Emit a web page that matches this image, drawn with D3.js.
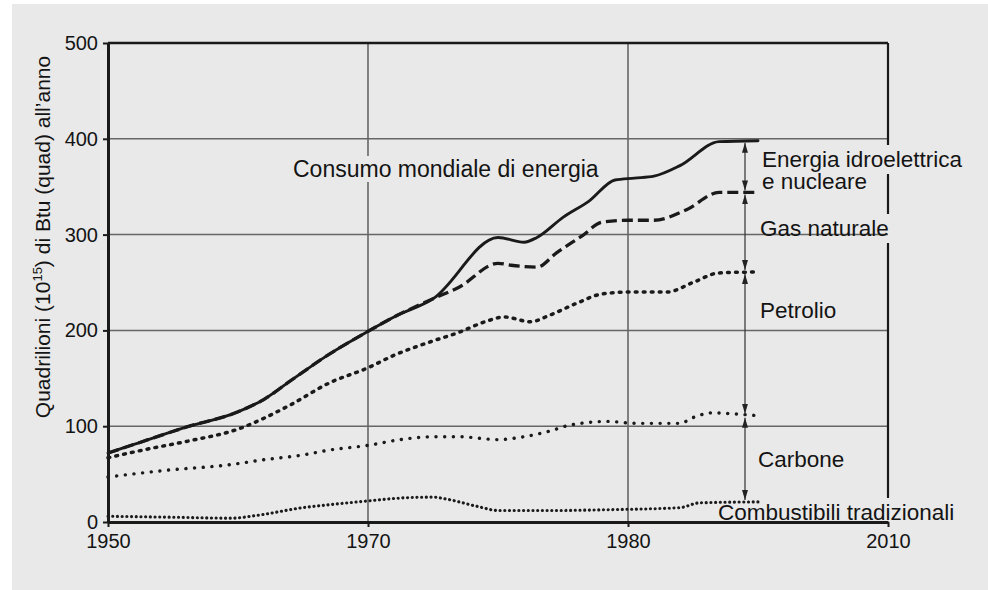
<!DOCTYPE html>
<html lang="it">
<head>
<meta charset="UTF-8">
<script src="https://d3js.org/d3.v7.min.js"></script>
<title>Consumo mondiale di energia</title>
<style>
  body { margin: 0; background: #fff; }
  svg text { font-family: "Liberation Sans", Arial, Helvetica, sans-serif; fill: #141414; }
</style>
</head>
<body>
<svg id="chart" width="988" height="590"></svg>
<script>
// data: [year, quad]
const totalConsumption = [[1950,72],[1952,81],[1956,99],[1960,115],[1962,128],[1964,147],[1967,175],[1970,199],[1972,214],[1975,233],[1980,297],[1982,292],[1983,297],[1985,318],[1987,335],[1989,357],[1990.5,359],[1992,361],[1994,372],[1997,397],[2000,398]];
const withoutHydroNuclear = [[1950,72],[1952,81],[1956,99],[1960,115],[1962,128],[1964,147],[1967,175],[1970,199],[1972,214],[1975,233],[1977,245],[1980,270],[1981,268],[1983,266],[1984.5,281],[1986.5,299],[1988,313],[1990,315],[1992,315],[1994.5,326],[1997,344],[2000,344]];
const withoutGas = [[1950,67],[1953,76],[1956,84],[1960,97],[1964,122],[1967,145],[1970,161],[1972,174],[1975,189],[1977,198],[1979,209],[1980.5,214],[1982.5,209],[1984,216],[1986,228],[1988,238],[1990,240],[1993,240],[1995,250],[1997,260],[2000,261]];
const coalAndTraditional = [[1950,47],[1954.5,54],[1959.5,60],[1962,65],[1965,70],[1967,75],[1970,80],[1972.5,86],[1975,89],[1977,89],[1980,86],[1982,89],[1984,95],[1985.5,101],[1988.5,105],[1990.5,103],[1994,103],[1995,109],[1996.5,114],[1998,113],[2000,111]];
const traditionalFuels = [[1950,6],[1955,5],[1959.5,4],[1961.5,7],[1965,15],[1967,18],[1970,22],[1972.5,25],[1975,26],[1976,24],[1978.5,16],[1980,12],[1984,12],[1989,13],[1994,15],[1995.5,20],[2000,21]];

const yTicks = [0,100,200,300,400,500];
const xTicks = [1950,1970,1990,2010];
const xTickLabels = ["1950","1970","1980","2010"];
const arrowYear = 1999;

const svg = d3.select("svg#chart");
const width = +svg.attr("width");
const height = +svg.attr("height");
const margin = {top:43, right:100, bottom:68, left:108};

// scanned paper
svg.append("rect").attr("width",width).attr("height",height).attr("fill","#fff");
svg.append("rect").attr("x",12).attr("y",4).attr("width",width-12).attr("height",height-4).attr("fill","#e9e9e9");

const x = d3.scaleLinear().domain([1950,2010]).range([margin.left, width-margin.right]);
const y = d3.scaleLinear().domain([0,500]).range([height-margin.bottom, margin.top]);

const grid = svg.append("g").attr("id","grid");
const lines = svg.append("g").attr("id","lines");
const annotations = svg.append("g").attr("id","annotations");

// series, drawn from the data
const lineGen = d3.line().x(d => x(d[0])).y(d => y(d[1])).curve(d3.curveMonotoneX);
const styles = [
  {dash:null, w:2.9, cap:"round"},
  {dash:"11,5", w:3.3, cap:"butt"},
  {dash:"1.8,6.2", w:3.5, cap:"round"},
  {dash:"0.1,8.6", w:3.4, cap:"round"},
  {dash:"0.1,4.6", w:3.1, cap:"round"}
];
const allSeries = [totalConsumption, withoutHydroNuclear, withoutGas, coalAndTraditional, traditionalFuels];
allSeries.forEach((s,i) => {
  lines.append("path")
    .datum(s)
    .attr("fill","none")
    .attr("stroke","#1a1a1a")
    .attr("stroke-width",styles[i].w)
    .attr("stroke-linecap",styles[i].cap)
    .attr("stroke-dasharray",styles[i].dash)
    .attr("d",lineGen);
});

// labels (a label may have several lines)
const labels = [
  {t:["Consumo mondiale di energia"], x:293, y:177, s:23},
  {t:["Energia idroelettrica","e nucleare"], x:762, y:167, s:22.5},
  {t:["Gas naturale"], x:760, y:236, s:22.5},
  {t:["Petrolio"], x:760, y:318, s:22.5},
  {t:["Carbone"], x:758, y:467, s:22.5},
  {t:["Combustibili tradizionali"], x:718, y:520, s:22.5}
];
const boxes = [];
labels.forEach(l => {
  const node = annotations.append("text").attr("x",l.x).attr("y",l.y).attr("font-size",l.s);
  l.t.forEach((line,k) => {
    const ts = node.append("tspan").attr("x",l.x).attr("dy",k === 0 ? 0 : 22).text(line);
    boxes.push(ts.node().getBBox());
  });
});

// arrows between the band edges
const defs = svg.append("defs");
defs.append("marker").attr("id","arrowhead")
  .attr("viewBox","0 0 10 6").attr("refX",10).attr("refY",3)
  .attr("markerWidth",10).attr("markerHeight",6)
  .attr("markerUnits","userSpaceOnUse").attr("orient","auto-start-reverse")
  .append("path").attr("d","M0,0L10,3L0,6Z").attr("fill","#222");
const levels = allSeries.map(s => s[s.length-1][1]);
for (let i=0; i<levels.length-1; i++) {
  annotations.append("line")
    .attr("x1",x(arrowYear)).attr("x2",x(arrowYear))
    .attr("y1",y(levels[i])+2).attr("y2",y(levels[i+1])-2)
    .attr("stroke","#333").attr("stroke-width",1.2)
    .attr("marker-start","url(#arrowhead)").attr("marker-end","url(#arrowhead)");
}

// vertical line split where labels sit on it
function segments(xPos, y0, y1, pad) {
  const cuts = boxes.filter(b => b.x <= xPos && b.x + b.width >= xPos)
    .map(b => [b.y - pad, b.y + b.height + pad]).sort((a,b) => a[0]-b[0]);
  const segs = [];
  let start = y0;
  cuts.forEach(c => { if (c[0] > start) segs.push([start, c[0]]); start = Math.max(start, c[1]); });
  if (start < y1) segs.push([start, y1]);
  return segs;
}

// grid
yTicks.filter(v => v > 0 && v < 500).forEach(v => {
  grid.append("line").attr("x1",x(1950)).attr("x2",x(2010)).attr("y1",y(v)).attr("y2",y(v))
    .attr("stroke","#666").attr("stroke-width",1.5);
});
[1970,1990].forEach(yr => {
  segments(x(yr), y(500), y(0), 0).forEach(sg => {
    grid.append("line").attr("x1",x(yr)).attr("x2",x(yr)).attr("y1",sg[0]).attr("y2",sg[1])
      .attr("stroke","#666").attr("stroke-width",1.6);
  });
});

// frame
grid.append("line").attr("x1",x(1950)).attr("x2",x(2010)).attr("y1",y(500)).attr("y2",y(500))
  .attr("stroke","#1a1a1a").attr("stroke-width",2.6);
segments(x(2010), y(500), y(0), 2).forEach(sg => {
  grid.append("line").attr("x1",x(2010)).attr("x2",x(2010)).attr("y1",sg[0]).attr("y2",sg[1])
    .attr("stroke","#1a1a1a").attr("stroke-width",2.2);
});

// axes
const leftAxis = d3.axisLeft(y).tickValues(yTicks).tickSize(5).tickPadding(5).tickSizeOuter(0);
svg.append("g").attr("class","y axis")
  .attr("transform","translate("+x(1950)+",0)")
  .call(leftAxis)
  .call(g => {
    g.attr("font-size",20).attr("font-family",null);
    g.select(".domain").attr("stroke","#1a1a1a").attr("stroke-width",3);
    g.selectAll(".tick line").attr("stroke","#1a1a1a").attr("stroke-width",2);
  });

const bottomAxis = d3.axisBottom(x).tickValues(xTicks).tickFormat((d,i) => xTickLabels[i])
  .tickSize(5).tickPadding(7).tickSizeOuter(0);
svg.append("g").attr("class","x axis")
  .attr("transform","translate(0,"+y(0)+")")
  .call(bottomAxis)
  .call(g => {
    g.attr("font-size",20).attr("font-family",null);
    g.select(".domain").attr("stroke","#1a1a1a").attr("stroke-width",3);
    g.selectAll(".tick line").attr("stroke","#1a1a1a").attr("stroke-width",2);
  });

// y title
svg.append("text")
  .attr("transform","translate(50,237) rotate(-90)")
  .attr("text-anchor","middle")
  .attr("font-size",21)
  .call(t => {
    t.append("tspan").text("Quadrilioni (10");
    t.append("tspan").attr("dy",-8).attr("font-size",13).text("15");
    t.append("tspan").attr("dy",8).text(") di Btu (quad) all\u2019anno");
  });
</script>
</body>
</html>
